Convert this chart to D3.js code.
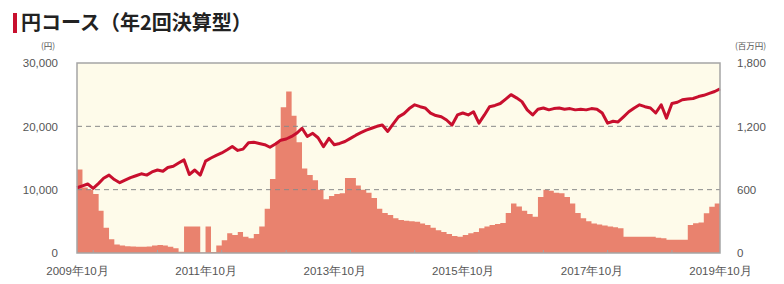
<!DOCTYPE html>
<html>
<head>
<meta charset="utf-8">
<script src="https://cdn.jsdelivr.net/npm/d3@7"></script>
<style>
  body { margin: 0; background: #fff; }
  svg { display: block; }
</style>
</head>
<body>
<div class="chart"></div>
<script>
// 基準価額（円）, monthly from 2009-10 to 2019-10
const navValues = [
  10300, 10600, 10900, 10200, 11000, 11800, 12300, 11600, 11100, 11500,
  11900, 12200, 12500, 12300, 12800, 13100, 12900, 13500, 13700, 14200,
  14700, 12400, 13100, 12300, 14500, 15000, 15400, 15800, 16300, 16800,
  16200, 16400, 17400, 17500, 17300, 17100, 16700, 17200, 17800, 18000,
  18400, 18900, 19700, 18400, 18900, 18200, 16800, 18100, 17100, 17300,
  17600, 18100, 18600, 19000, 19400, 19700, 20000, 20200, 19200, 20400,
  21500, 22000, 22800, 23400, 23100, 22900, 22100, 21700, 21500, 21000,
  20200, 21800, 22100, 21800, 22300, 20500, 21800, 23100, 23300, 23600,
  24300, 25000, 24500, 23900, 22600, 21800, 22700, 22900, 22600, 22800,
  22900, 22700, 22800, 22600, 22700, 22600, 22800, 22700, 22100, 20500,
  20800, 20700, 21500, 22300, 22900, 23400, 23100, 22900, 22100, 23400,
  21300, 23600, 23800, 24200, 24300, 24400, 24700, 24900, 25200, 25500,
  25900
];

// 純資産総額（百万円）
const assetValues = [
  790, 620, 600, 560, 400, 240, 130, 80, 70, 65,
  62, 60, 60, 62, 70, 76, 70, 60, 44, 12,
  250, 250, 250, 5, 250, 10, 70, 120, 186, 170,
  200, 155, 140, 180, 250, 420, 700, 1050, 1380, 1530,
  1300, 1050, 800, 740, 690, 600, 510, 540, 560, 565,
  710, 710, 640, 600, 570, 520, 420, 380, 360, 330,
  313, 305, 300, 297, 280, 265, 240, 215, 200, 180,
  160, 155, 170, 186, 200, 234, 250, 265, 275, 285,
  380, 470, 440, 400, 370, 344, 530, 600, 590, 570,
  565, 530, 470, 380, 330, 300, 280, 270, 260, 250,
  245, 234, 155, 155, 155, 155, 155, 155, 145, 140,
  125, 125, 125, 125, 265, 281, 290, 376, 438, 470,
  470
];

const xTickMonths = ["2009-10", "2011-10", "2013-10", "2015-10", "2017-10", "2019-10"];
const leftTicks = [0, 10000, 20000, 30000];
const rightTicks = [0, 600, 1200, 1800];
const gridTicks = [10000, 20000];

const W = 784, H = 284;
const margin = { top: 63, right: 64, bottom: 31, left: 77 };
const width = W - margin.left - margin.right;
const height = H - margin.top - margin.bottom;

const parseMonth = d3.timeParse("%Y-%m");
const startDate = parseMonth("2009-10");
const dates = navValues.map((_, i) => d3.timeMonth.offset(startDate, i));

const svg = d3.select(".chart").append("svg")
  .attr("width", W).attr("height", H)
  .style("font-family", "'DejaVu Sans', 'Noto Sans CJK JP', sans-serif");

// title
svg.append("rect").attr("x", 13).attr("y", 13).attr("width", 4).attr("height", 20).attr("fill", "#c8102e");
svg.append("text")
  .attr("x", 21).attr("y", 30)
  .style("font-family", "'Noto Sans CJK JP', sans-serif")
  .style("font-size", "20px").style("font-weight", "bold").attr("fill", "#222")
  .text("円コース（年2回決算型）");

const g = svg.append("g").attr("transform", `translate(${margin.left},${margin.top})`);

const x = d3.scaleTime().domain([startDate, dates[dates.length - 1]]).range([0, width]);
const yL = d3.scaleLinear().domain([0, 30000]).range([height, 0]);
const yR = d3.scaleLinear().domain([0, 1800]).range([height, 0]);

g.append("rect").attr("width", width).attr("height", height).attr("fill", "#fefbea");

// net assets
g.append("path")
  .datum(assetValues)
  .attr("fill", "#e9826e")
  .attr("d", d3.area()
    .curve(d3.curveStepAfter)
    .x((d, i) => x(dates[i]))
    .y0(height)
    .y1(d => yR(d)));

// grid
g.selectAll(".grid").data(gridTicks).enter().append("line")
  .attr("x1", 0).attr("x2", width)
  .attr("y1", d => yL(d)).attr("y2", d => yL(d))
  .attr("stroke", "#8a8a8a").attr("stroke-width", 1).attr("stroke-dasharray", "5,4");

// NAV line
g.append("path")
  .datum(navValues)
  .attr("fill", "none")
  .attr("stroke", "#c80f2e")
  .attr("stroke-width", 3)
  .attr("stroke-linejoin", "round")
  .attr("d", d3.line().x((d, i) => x(dates[i])).y(d => yL(d)));

// frame
g.append("rect").attr("width", width).attr("height", height)
  .attr("fill", "none").attr("stroke", "#a5a5a5").attr("stroke-width", 1.5);

// yearly ticks
const yearTicks = d3.timeMonth.every(12).range(startDate, d3.timeMonth.offset(dates[dates.length - 1], 1));
g.selectAll(".ytick").data(yearTicks).enter().append("line")
  .attr("x1", d => x(d)).attr("x2", d => x(d))
  .attr("y1", height).attr("y2", height - 3)
  .attr("stroke", "#a5a5a5");

// axes
const styleAxis = sel => {
  sel.select(".domain").remove();
  sel.selectAll("text").attr("fill", "#555").style("font-size", "11.5px");
};

g.append("g")
  .call(d3.axisLeft(yL).tickValues(leftTicks).tickSize(0).tickPadding(19).tickFormat(d3.format(",")))
  .call(styleAxis);

g.append("g").attr("transform", `translate(${width},0)`)
  .call(d3.axisRight(yR).tickValues(rightTicks).tickSize(0).tickPadding(17).tickFormat(d3.format(",")))
  .call(styleAxis);

g.append("g").attr("transform", `translate(0,${height})`)
  .call(d3.axisBottom(x).tickValues(xTickMonths.map(parseMonth)).tickSize(0).tickPadding(14)
    .tickFormat(d3.timeFormat("%Y年%m月")))
  .call(styleAxis);

// units
svg.append("text").attr("x", 48).attr("y", 49).attr("text-anchor", "middle")
  .attr("fill", "#555").style("font-size", "8.5px").style("font-family", "'Noto Sans CJK JP', sans-serif")
  .text("(円)");
svg.append("text").attr("x", 735).attr("y", 49)
  .attr("fill", "#555").style("font-size", "8.5px").style("font-family", "'Noto Sans CJK JP', sans-serif")
  .text("(百万円)");
</script>
</body>
</html>
